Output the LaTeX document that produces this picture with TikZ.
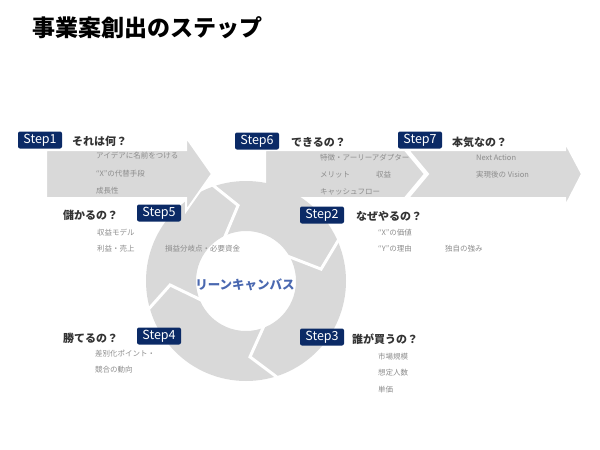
\documentclass[tikz,border=0pt]{standalone}
\usepackage{fontspec}
\setmainfont{Noto Sans CJK JP}
\usetikzlibrary{calc}
\definecolor{agray}{HTML}{D9D9D9}
\definecolor{navy}{HTML}{0B2A66}
\definecolor{cblue}{HTML}{4A68B0}
\definecolor{subgray}{HTML}{8C8C8C}
\begin{document}
\begin{tikzpicture}[x=1pt,y=-1pt,
  stepbox/.style={fill=navy,rounded corners=2pt,text=white,minimum width=44pt,minimum height=17pt,inner sep=0pt,font=\fontsize{12.5}{12.5}\selectfont},
  headtxt/.style={anchor=west,inner sep=0pt,text=black!80,font=\fontsize{11}{11}\selectfont\bfseries},
  subtxt/.style={anchor=west,inner sep=0pt,text=subgray,font=\fontsize{7.5}{7.5}\selectfont},
  bigarrow/.style={fill=agray,draw=white,line width=2pt,line join=miter},
  gapline/.style={draw=white,line width=3pt,line join=miter}]
\useasboundingbox (0,0) rectangle (600,450);
% title
\node[anchor=west,inner sep=0pt,font=\fontsize{23}{23}\selectfont\bfseries] (title) at (32,28) {事業案創出のステップ};
% big arrows (Step6, Step7)
\path[bigarrow] (265,150) -- (405,150) -- (425,174) -- (405,198) -- (265,198) -- cycle;
\path[bigarrow] (408,150) -- (565,150) -- (565,142) -- (582,174) -- (565,207) -- (565,198) -- (408,198) -- (428,174) -- cycle;
% ring
\begin{scope}[shift={(246,281)},yscale=-1]
  \fill[agray,even odd rule] (0,0) circle (100) (0,0) circle (50);
  \foreach \o/\t/\i in {110/96/120, 25/9/35, -71/-87/-65, -163/-177/-153}{
    \draw[gapline] (\o:104) -- (\t:76) -- (\i:46);
  }
\end{scope}
% Step1 arrow on top
\path[bigarrow] (46,150) -- (186,150) -- (186,137) -- (212,174) -- (186,211) -- (186,198) -- (46,198) -- cycle;
% centre text
\node[inner sep=0pt,text=cblue,font=\fontsize{12.5}{12.5}\selectfont\bfseries] (center) at (245,285) {リーンキャンバス};
% Step labels
\node[stepbox] (s1) at (40,140) {Step1};
\node[stepbox] (s6) at (257,141) {Step6};
\node[stepbox] (s7) at (420,140) {Step7};
\node[stepbox] (s5) at (159,213) {Step5};
\node[stepbox] (s2) at (322,215) {Step2};
\node[stepbox] (s4) at (159,336) {Step4};
\node[stepbox] (s3) at (322,337) {Step3};
% Step1 texts
\node[headtxt] (h1) at (72,141) {それは何？};
\node[subtxt] (t1a) at (96,156) {アイデアに名前をつける};
\node[subtxt] (t1b) at (96,174) {“X”の代替手段};
\node[subtxt] (t1c) at (96,191) {成長性};
% Step6 texts
\node[headtxt] (h6) at (291,142) {できるの？};
\node[subtxt] (t6a) at (320,158) {特徴・アーリーアダプター};
\node[subtxt] (t6b) at (320,175) {メリット};
\node[subtxt] (t6b2) at (376,175) {収益};
\node[subtxt] (t6c) at (320,192) {キャッシュフロー};
% Step7 texts
\node[headtxt] (h7) at (452,142) {本気なの？};
\node[subtxt] (t7a) at (476,158) {Next Action};
\node[subtxt] (t7b) at (476,175) {実現後の Vision};
% Step5 texts
\node[headtxt] (h5) at (63,215) {儲かるの？};
\node[subtxt] (t5a) at (97,233) {収益モデル};
\node[subtxt] (t5b) at (97,249) {利益・売上};
\node[subtxt] (t5c) at (165,249) {損益分岐点・必要資金};
% Step2 texts
\node[headtxt] (h2) at (356,216) {なぜやるの？};
\node[subtxt] (t2a) at (378,233) {“X”の価値};
\node[subtxt] (t2b) at (378,249) {“Y”の理由};
\node[subtxt] (t2c) at (445,249) {独自の強み};
% Step4 texts
\node[headtxt] (h4) at (63,338) {勝てるの？};
\node[subtxt] (t4a) at (95,354) {差別化ポイント・};
\node[subtxt] (t4b) at (95,370) {競合の動向};
% Step3 texts
\node[headtxt] (h3) at (352,339) {誰が買うの？};
\node[subtxt] (t3a) at (378,357) {市場規模};
\node[subtxt] (t3b) at (378,373) {想定人数};
\node[subtxt] (t3c) at (378,390) {単価};
\end{tikzpicture}
\end{document}
